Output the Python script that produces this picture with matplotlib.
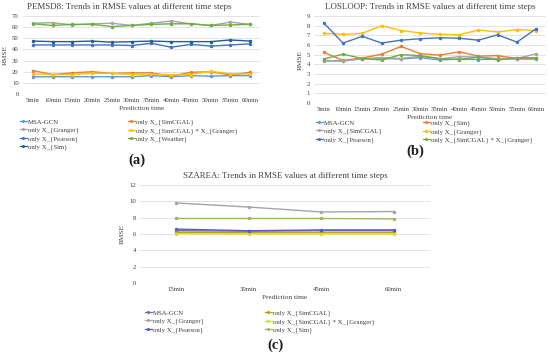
import matplotlib.pyplot as plt
from matplotlib.lines import Line2D

plt.rcParams['font.family'] = ['Liberation Serif', 'DejaVu Serif']

W, H = 550, 359

# ---- data ----
steps_12 = ['5min', '10min', '15min', '20min', '25min', '30min',
            '35min', '40min', '45min', '50min', '55min', '60min']
steps_4 = ['15min', '30min', '45min', '60min']

pems_msa = [15.5, 15.5, 15.5, 15.5, 15.5, 15.5, 16.5, 15.5, 16.5, 16.0, 16.5, 16.5]
pems_simcgal = [21.0, 17.5, 19.0, 20.0, 18.5, 19.0, 19.0, 16.0, 19.5, 20.0, 17.0, 19.5]
pems_granger = [63.5, 64.0, 62.0, 63.0, 63.5, 61.5, 63.5, 65.5, 63.0, 61.5, 64.5, 62.5]
pems_simcgal_granger = [18.0, 17.5, 17.5, 18.5, 18.5, 17.5, 18.0, 17.0, 17.5, 20.5, 18.0, 18.0]
pems_pearson = [44.0, 44.0, 44.0, 44.0, 44.0, 43.5, 45.5, 42.0, 44.5, 43.0, 44.0, 45.0]
pems_weather = [63.0, 61.5, 62.5, 62.5, 60.5, 61.5, 62.5, 63.0, 63.0, 61.5, 62.0, 62.5]
pems_sim = [47.5, 47.0, 47.0, 47.5, 46.5, 47.0, 47.5, 47.0, 47.0, 47.0, 48.5, 47.5]

los_msa = [4.35, 4.35, 4.6, 4.6, 4.55, 4.7, 4.45, 4.55, 4.5, 4.55, 4.55, 4.55]
los_sim = [5.25, 4.4, 4.65, 5.05, 5.85, 5.1, 4.95, 5.3, 4.85, 4.9, 4.6, 4.65]
los_simcgal = [4.4, 4.35, 4.55, 4.7, 4.6, 4.85, 4.55, 4.8, 4.75, 4.6, 4.6, 5.1]
los_granger = [7.2, 7.1, 7.2, 8.0, 7.5, 7.25, 7.1, 7.05, 7.55, 7.35, 7.6, 7.5]
los_pearson = [8.3, 6.2, 6.9, 6.2, 6.5, 6.65, 6.75, 6.7, 6.5, 7.05, 6.3, 7.7]
los_simcgal_granger = [4.55, 5.05, 4.6, 4.45, 5.0, 4.9, 4.6, 4.5, 4.75, 4.45, 4.7, 4.65]

sza_msa = [6.4, 6.35, 6.4, 6.4]
sza_simcgal = [6.2, 6.15, 6.15, 6.15]
sza_granger = [9.8, 9.3, 8.7, 8.75]
sza_simcgal_granger = [6.05, 6.0, 6.0, 6.0]
sza_pearson = [6.6, 6.4, 6.5, 6.5]
sza_sim = [7.9, 7.9, 7.9, 7.85]

fig = plt.figure(figsize=(W / 100, H / 100), dpi=100)


def px_axes(left, top, right, bottom):
    return fig.add_axes([left / W, 1 - bottom / H, (right - left) / W, (bottom - top) / H])


def style(ax, title, title_x, labels, ymax, ystep):
    ax.set_xlim(-0.5, len(labels) - 0.5)
    ax.set_ylim(0, ymax)
    ax.set_yticks(range(0, ymax + 1, ystep))
    ax.set_xticks(range(len(labels)))
    ax.set_xticklabels(labels)
    ax.grid(axis='y', color='#d9d9d9', lw=0.5)
    ax.set_axisbelow(True)
    for s in ax.spines.values():
        s.set_visible(False)
    ax.tick_params(length=0, labelsize=4.9, colors='#404040', pad=3)
    ax.set_title(title, fontsize=6.4, color='#404040', pad=5, x=title_x)
    ax.set_xlabel('Prediction time', fontsize=5.2, color='#404040', labelpad=2)
    ax.set_ylabel('RMSE', fontsize=5.2, color='#404040', labelpad=3)


def draw(ax, series):
    x = range(len(series[0][1]))
    for name, vals, col in series:
        ax.plot(x, vals, color=col, lw=1.0, marker='o', ms=1.5, label=name)


def legend_cols(series, cols, xs, ytop):
    for c, idxs in enumerate(cols):
        handles = [Line2D([], [], color=series[i][2], lw=0.9, marker='o', ms=1.2)
                   for i in idxs]
        names = [series[i][0] for i in idxs]
        leg = fig.legend(handles, names, loc='upper left',
                         bbox_to_anchor=(xs[c] / W, 1 - ytop / H),
                         frameon=False, fontsize=4.9, handlelength=1.0,
                         handletextpad=0.2, labelspacing=0.3, borderpad=0,
                         borderaxespad=0)
        for t in leg.get_texts():
            t.set_color('#404040')


# (a) PEMSD8
a_series = [
    ('MSA-GCN', pems_msa, '#5b9bd5'),
    ('only X_{SimCGAL}', pems_simcgal, '#ed7d31'),
    ('only X_{Granger}', pems_granger, '#a5a5a5'),
    ('only X_{SimCGAL} * X_{Granger}', pems_simcgal_granger, '#ffc000'),
    ('only X_{Pearson}', pems_pearson, '#4472c4'),
    ('only X_{Weather}', pems_weather, '#70ad47'),
    ('only X_{Sim}', pems_sim, '#255e91'),
]
ax_a = px_axes(23, 16, 260, 94)
style(ax_a, 'PEMSD8: Trends in RMSE values at different time steps', 0.45,
      steps_12, 70, 10)
draw(ax_a, a_series)
legend_cols(a_series, [[0, 2, 4, 6], [1, 3, 5]], [20, 128], 119)
fig.text(137 / W, 1 - 160 / H, '(a)', fontsize=10.5, ha='center', va='center',
         fontweight='bold', color='#202020')

# (b) LOSLOOP
b_series = [
    ('MSA-GCN', los_msa, '#5b9bd5'),
    ('only X_{Sim}', los_sim, '#ed7d31'),
    ('only X_{SimCGAL}', los_simcgal, '#a5a5a5'),
    ('only X_{Granger}', los_granger, '#ffc000'),
    ('only X_{Pearson}', los_pearson, '#4472c4'),
    ('only X_{SimCGAL} * X_{Granger}', los_simcgal_granger, '#70ad47'),
]
ax_b = px_axes(314, 16, 546, 103)
style(ax_b, 'LOSLOOP: Trends in RMSE values at different time steps', 0.5,
      steps_12, 9, 1)
draw(ax_b, b_series)
legend_cols(b_series, [[0, 2, 4], [1, 3, 5]], [316, 423], 120)
fig.text(415 / W, 1 - 151 / H, '(b)', fontsize=10.5, ha='center', va='center',
         fontweight='bold', color='#202020')

# (c) SZAREA
c_series = [
    ('MSA-GCN', sza_msa, '#8064a2'),
    ('only X_{SimCGAL}', sza_simcgal, '#c0a000'),
    ('only X_{Granger}', sza_granger, '#a5a5a5'),
    ('only X_{SimCGAL} * X_{Granger}', sza_simcgal_granger, '#d4e02a'),
    ('only X_{Pearson}', sza_pearson, '#4f5fd0'),
    ('only X_{Sim}', sza_sim, '#9bbb59'),
]
ax_c = px_axes(140, 185, 430, 283)
style(ax_c, 'SZAREA: Trends in RMSE values at different time steps', 0.5,
      steps_4, 12, 2)
draw(ax_c, c_series)
legend_cols(c_series, [[0, 2, 4], [1, 3, 5]], [145, 265], 310)
fig.text(275 / W, 1 - 345 / H, '(c)', fontsize=10.5, ha='center', va='center',
         fontweight='bold', color='#202020')

fig.savefig('out.png', dpi=100)
